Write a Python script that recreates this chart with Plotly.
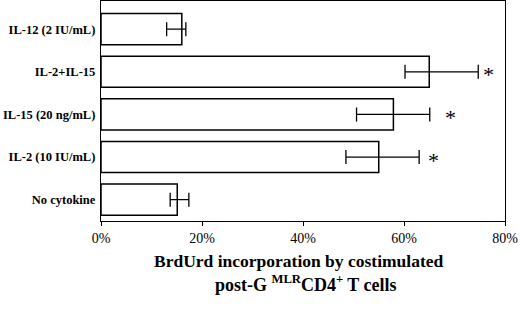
import plotly.graph_objects as go

categories = ["No cytokine", "IL-2 (10 IU/mL)", "IL-15 (20 ng/mL)", "IL-2+IL-15", "IL-12 (2 IU/mL)"]
values = [15.1, 55.0, 57.9, 65.0, 16.0]
err_low = [13.7, 48.5, 50.6, 60.2, 13.0]
err_high = [17.4, 63.0, 65.1, 74.7, 16.8]
significant = [False, True, True, True, False]
star_gap = [0, 2.8, 4.2, 2.1, 0]
x_ticks = [0, 20, 40, 60, 80]

serif = "Liberation Serif, Times New Roman, serif"

fig = go.Figure()
fig.add_trace(go.Bar(
    y=categories, x=values, orientation="h",
    marker=dict(color="white", line=dict(color="black", width=1.5)),
    width=0.73,
    error_x=dict(type="data", symmetric=False,
                 array=[h - v for h, v in zip(err_high, values)],
                 arrayminus=[v - l for l, v in zip(err_low, values)],
                 color="black", thickness=1.3, width=7),
    showlegend=False,
    hoverinfo="skip",
))

for i, c in enumerate(categories):
    if significant[i]:
        fig.add_annotation(x=err_high[i] + star_gap[i], y=c, text="*", showarrow=False,
                           xanchor="center", yanchor="middle",
                           font=dict(family=serif, size=22, color="black"), yshift=-3)

fig.add_annotation(x=0.49, y=-0.183, xref="paper", yref="paper", showarrow=False,
                   text="<b>BrdUrd incorporation by costimulated</b>",
                   font=dict(family=serif, size=17.5, color="black"), yanchor="middle")
fig.add_annotation(x=0.505, y=-0.283, xref="paper", yref="paper", showarrow=False,
                   text="<b>post-G <sup>MLR</sup>CD4<sup>+</sup> T cells</b>",
                   font=dict(family=serif, size=18, color="black"), yanchor="middle")

fig.update_layout(
    width=520, height=312,
    margin=dict(l=101, r=15, t=1, b=91),
    plot_bgcolor="white", paper_bgcolor="white",
    xaxis=dict(range=[0, 80], tickvals=x_ticks, ticktext=[f"{t}%" for t in x_ticks],
               automargin=False,
               showgrid=False, zeroline=False, showline=True, linecolor="black", linewidth=1.3,
               mirror=True, ticks="outside", ticklen=4, tickcolor="black", tickwidth=1.3,
               tickfont=dict(family=serif, size=14, color="black")),
    yaxis=dict(range=[-0.5, 4.66], automargin=False, showgrid=False, zeroline=False, showline=True,
               linecolor="black", linewidth=1.3, mirror=True, ticks="", ticklabelstandoff=2,
               tickfont=dict(family=serif, size=12.5, color="black"),
               tickmode="array", tickvals=categories,
               ticktext=[f"<b>{c}</b>" for c in categories]),
)

fig.write_html("out.html", config={"displayModeBar": False},
               post_script="document.body.style.margin='0';document.body.style.padding='0';")
